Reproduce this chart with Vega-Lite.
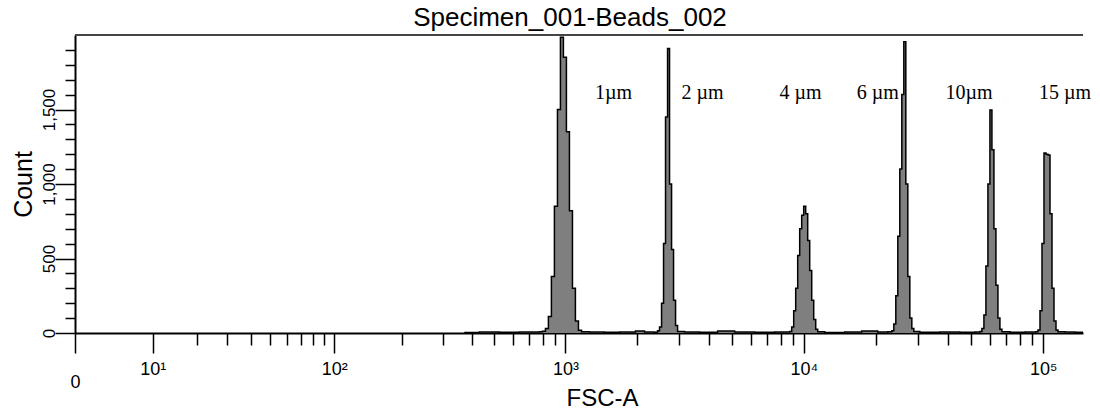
{
  "$schema": "https://vega.github.io/schema/vega-lite/v6.json",
  "width": 1008,
  "height": 298,
  "autosize": "none",
  "padding": {"left": 75, "top": 35, "right": 17, "bottom": 77},
  "background": "white",
  "config": {"view": {"stroke": null}, "font": "Liberation Sans"},
  "title": {"text": "Specimen_001-Beads_002", "fontSize": 26, "fontWeight": "normal", "font": "Liberation Sans", "color": "#000", "anchor": "middle", "frame": "group", "offset": -18, "baseline": "alphabetic", "dx": -9},
  "datasets": {
    "hist": [
      {"fsc": 372, "count": 4}, {"fsc": 431, "count": 6}, {"fsc": 525, "count": 5}, {"fsc": 638, "count": 7}, {"fsc": 739, "count": 6},
      {"fsc": 776, "count": 8}, {"fsc": 799, "count": 12}, {"fsc": 823, "count": 30}, {"fsc": 847, "count": 110}, {"fsc": 872, "count": 380}, {"fsc": 898, "count": 850}, {"fsc": 925, "count": 1500}, {"fsc": 952, "count": 1985}, {"fsc": 980, "count": 1850}, {"fsc": 1009, "count": 1350}, {"fsc": 1039, "count": 820}, {"fsc": 1070, "count": 300}, {"fsc": 1101, "count": 80}, {"fsc": 1134, "count": 18}, {"fsc": 1168, "count": 8},
      {"fsc": 1261, "count": 6}, {"fsc": 1459, "count": 5}, {"fsc": 1687, "count": 6}, {"fsc": 1970, "count": 14}, {"fsc": 2149, "count": 6}, {"fsc": 2368, "count": 5},
      {"fsc": 2437, "count": 15}, {"fsc": 2485, "count": 40}, {"fsc": 2534, "count": 200}, {"fsc": 2583, "count": 600}, {"fsc": 2633, "count": 1450}, {"fsc": 2685, "count": 1910}, {"fsc": 2737, "count": 1000}, {"fsc": 2791, "count": 560}, {"fsc": 2845, "count": 220}, {"fsc": 2901, "count": 50}, {"fsc": 2958, "count": 10},
      {"fsc": 3164, "count": 6}, {"fsc": 3658, "count": 5}, {"fsc": 4353, "count": 14}, {"fsc": 5129, "count": 6}, {"fsc": 6220, "count": 5}, {"fsc": 7543, "count": 6}, {"fsc": 8306, "count": 6},
      {"fsc": 8716, "count": 10}, {"fsc": 8886, "count": 40}, {"fsc": 9059, "count": 150}, {"fsc": 9235, "count": 300}, {"fsc": 9415, "count": 520}, {"fsc": 9598, "count": 700}, {"fsc": 9785, "count": 790}, {"fsc": 9975, "count": 850}, {"fsc": 10169, "count": 800}, {"fsc": 10367, "count": 620}, {"fsc": 10569, "count": 420}, {"fsc": 10775, "count": 220}, {"fsc": 10985, "count": 90}, {"fsc": 11199, "count": 25}, {"fsc": 11417, "count": 8},
      {"fsc": 12209, "count": 4}, {"fsc": 14802, "count": 6}, {"fsc": 17438, "count": 14}, {"fsc": 20349, "count": 6}, {"fsc": 22410, "count": 8},
      {"fsc": 23298, "count": 15}, {"fsc": 23752, "count": 60}, {"fsc": 24214, "count": 250}, {"fsc": 24685, "count": 650}, {"fsc": 25165, "count": 1100}, {"fsc": 25655, "count": 1600}, {"fsc": 26154, "count": 1955}, {"fsc": 26663, "count": 1000}, {"fsc": 27182, "count": 380}, {"fsc": 27711, "count": 100}, {"fsc": 28250, "count": 30}, {"fsc": 28800, "count": 10},
      {"fsc": 30515, "count": 5}, {"fsc": 36999, "count": 6}, {"fsc": 44865, "count": 5}, {"fsc": 51858, "count": 6},
      {"fsc": 54401, "count": 10}, {"fsc": 55459, "count": 30}, {"fsc": 56538, "count": 120}, {"fsc": 57638, "count": 450}, {"fsc": 58759, "count": 1000}, {"fsc": 59902, "count": 1497}, {"fsc": 61067, "count": 1230}, {"fsc": 62255, "count": 700}, {"fsc": 63466, "count": 320}, {"fsc": 64701, "count": 100}, {"fsc": 65959, "count": 25}, {"fsc": 67242, "count": 8},
      {"fsc": 72684, "count": 5}, {"fsc": 83997, "count": 6}, {"fsc": 89784, "count": 6},
      {"fsc": 93312, "count": 8}, {"fsc": 95127, "count": 20}, {"fsc": 96978, "count": 150}, {"fsc": 98864, "count": 600}, {"fsc": 100787, "count": 1208}, {"fsc": 102747, "count": 1200}, {"fsc": 104745, "count": 1195}, {"fsc": 106782, "count": 800}, {"fsc": 108859, "count": 300}, {"fsc": 110976, "count": 80}, {"fsc": 113135, "count": 20}, {"fsc": 115335, "count": 8},
      {"fsc": 123336, "count": 6}, {"fsc": 135810, "count": 5}, {"fsc": 146691, "count": 5}
    ],
    "labels": [
      {"fsc": 1592, "count": 1570, "label": "1µm"},
      {"fsc": 3762, "count": 1570, "label": "2 µm"},
      {"fsc": 9684, "count": 1570, "label": "4 µm"},
      {"fsc": 20370, "count": 1570, "label": "6 µm"},
      {"fsc": 48970, "count": 1570, "label": "10µm"},
      {"fsc": 123360, "count": 1570, "label": "15 µm"}
    ]
  },
  "layer": [
    {
      "data": {"name": "hist"},
      "mark": {"type": "area", "interpolate": "step-after", "color": "#7f7f7f"},
      "encoding": {
        "x": {
          "field": "fsc", "type": "quantitative",
          "scale": {"type": "symlog", "constant": 9, "domain": [0, 146700], "nice": false},
          "axis": {
            "values": [0,10,20,30,40,50,60,70,80,90,100,200,300,400,500,600,700,800,900,1000,2000,3000,4000,5000,6000,7000,8000,9000,10000,20000,30000,40000,50000,60000,70000,80000,90000,100000],
            "tickCount": 500,
            "labelExpr": "datum.value == 0 ? '0' : datum.value == 10 ? '10¹' : datum.value == 100 ? '10²' : datum.value == 1000 ? '10³' : datum.value == 10000 ? '10⁴' : datum.value == 100000 ? '10⁵' : ''",
            "tickSize": {"condition": {"test": "indexof([0,10,100,1000,10000,100000], datum.value) >= 0", "value": 20}, "value": 12},
            "labelPadding": {"condition": {"test": "datum.value == 0", "value": 20}, "value": 7},
            "labelOverlap": false, "labelFlush": false, "labelBound": false,
            "labelFontSize": 18, "labelColor": "#000", "labelFont": "Liberation Sans", "labelAlign": "center", "labelBaseline": "top",
            "domainColor": "#000", "domainWidth": 2, "tickColor": "#000", "tickWidth": 1.5, "grid": false,
            "title": "FSC-A", "titleFontSize": 24, "titleFontWeight": "normal", "titleColor": "#000", "titleFont": "Liberation Sans",
            "titleX": 527, "titleY": 72, "titleBaseline": "alphabetic", "titleAlign": "center"
          }
        },
        "y": {
          "field": "count", "type": "quantitative",
          "scale": {"domain": [0, 2000], "nice": false},
          "axis": {
            "values": [0,100,200,300,400,500,600,700,800,900,1000,1100,1200,1300,1400,1500,1600,1700,1800,1900],
            "tickCount": 500,
            "labelExpr": "datum.value % 500 == 0 ? format(datum.value, ',') : ''",
            "tickSize": {"condition": {"test": "datum.value % 500 == 0", "value": 20}, "value": 10},
            "labelAngle": 270, "labelAlign": "center", "labelBaseline": "bottom", "labelPadding": -3,
            "labelFontSize": 17, "labelColor": "#000", "labelFont": "Liberation Sans",
            "labelOverlap": false, "labelBound": false, "labelFlush": false,
            "domainColor": "#000", "domainWidth": 2, "tickColor": "#000", "tickWidth": 1.5, "grid": false,
            "title": "Count", "titleFontSize": 25, "titleFontWeight": "normal", "titleColor": "#000", "titleFont": "Liberation Sans",
            "titleX": -52, "titleY": 149, "titleAngle": 270, "titleBaseline": "middle", "titleAlign": "center"
          }
        }
      }
    },
    {
      "data": {"name": "hist"},
      "mark": {"type": "line", "interpolate": "step-after", "color": "#000", "strokeWidth": 1.5},
      "encoding": {
        "x": {"field": "fsc", "type": "quantitative"},
        "y": {"field": "count", "type": "quantitative"}
      }
    },
    {
      "data": {"values": [{}]},
      "mark": {"type": "rule", "color": "#444", "strokeWidth": 2},
      "encoding": {"y": {"datum": 2000}}
    },
    {
      "data": {"name": "labels"},
      "mark": {"type": "text", "font": "Liberation Serif", "fontSize": 20, "align": "center", "baseline": "alphabetic", "color": "#000"},
      "encoding": {
        "x": {"field": "fsc", "type": "quantitative"},
        "y": {"field": "count", "type": "quantitative"},
        "text": {"field": "label"}
      }
    }
  ]
}
